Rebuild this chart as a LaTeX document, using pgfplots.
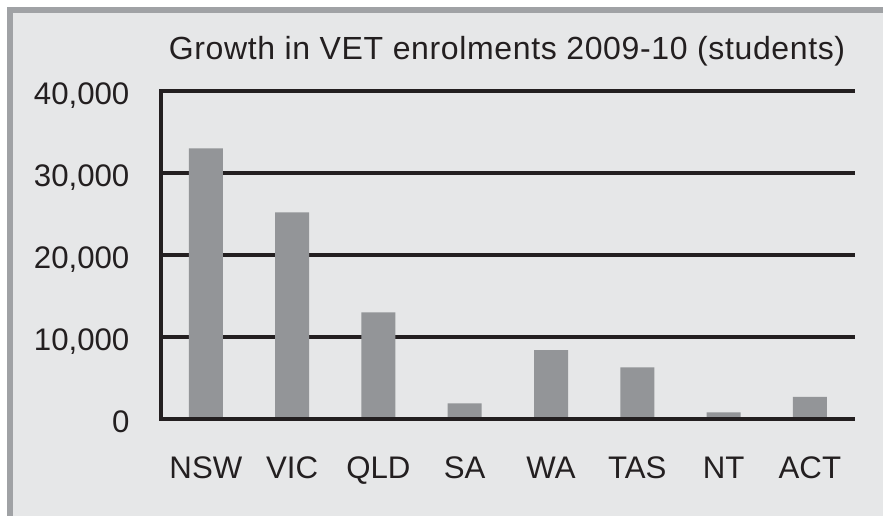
\documentclass[border=0pt]{standalone}
\usepackage{fontspec}
\setmainfont{Liberation Sans}
\usepackage{pgfplots}
\pgfplotsset{compat=1.18}
\definecolor{panel}{HTML}{E6E7E8}
\definecolor{framegray}{HTML}{A0A2A5}
\definecolor{bargray}{HTML}{939598}
\definecolor{ink}{HTML}{231F20}

\begin{document}
\begin{tikzpicture}
% page is 883x516 px, drawn at 0.5bp per px
\fill[white] (0,0) rectangle (441.5bp,258bp);
\fill[framegray] (3.5bp,0) rectangle (441.5bp,254.5bp);
\fill[panel] (6.5bp,0) rectangle (441.5bp,251.5bp);
\begin{axis}[
  at={(80.5bp,48.5bp)}, anchor=south west,
  scale only axis, width=346bp, height=164bp,
  ybar, bar width=17bp,
  enlargelimits=false,
  xmin=-0.52, xmax=7.5, ymin=0, ymax=40000,
  xtick={0,...,7},
  xticklabels={NSW,VIC,QLD,SA,WA,TAS,NT,ACT},
  ytick={0,10000,20000,30000,40000},
  scaled y ticks=false,
  axis x line*=bottom, axis y line*=left,
  x axis line style={draw=none},
  y axis line style={ink, line width=1.6bp, line cap=rect, -},
  major tick length=0pt,
  ymajorgrids, grid style={ink, line width=1.6bp, line cap=rect},
  tick label style={font=\fontsize{15.6bp}{18bp}\selectfont, text=ink},
  yticklabel style={anchor=base east, xshift=-12.3bp, yshift=-6.9bp},
  xticklabel style={anchor=north, yshift=-15.5bp},
  /pgf/number format/assume math mode=true,
  /pgf/number format/1000 sep={,},
  title={Growth in VET enrolments 2009-10 (students)},
  title style={at={(0.5,1)}, anchor=base, yshift=9.65bp,
    font=\fontsize{16bp}{19bp}\selectfont\addfontfeature{LetterSpace=2}, text=ink},
]
\addplot[fill=bargray, draw=none] coordinates {
  (0,33000) (1,25200) (2,13000) (3,1900)
  (4,8400) (5,6300) (6,800) (7,2700)
};
\draw[ink, line width=1.6bp, line cap=rect] (rel axis cs:0,0) -- (rel axis cs:1,0);
\end{axis}
\end{tikzpicture}
\end{document}
